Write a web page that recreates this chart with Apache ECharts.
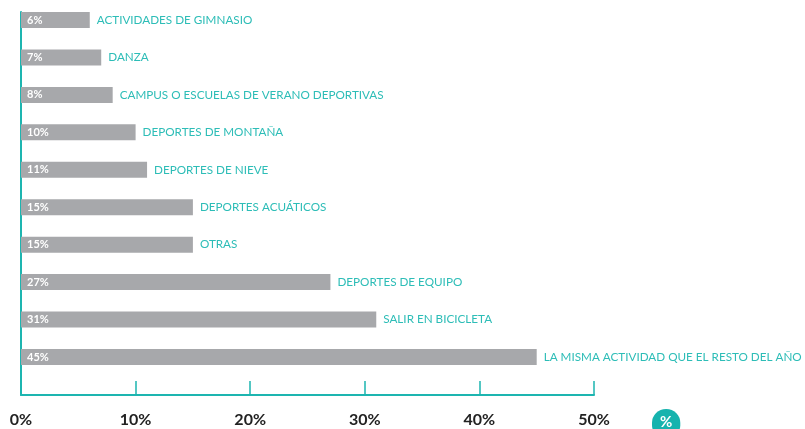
<!DOCTYPE html>
<html>
<head>
<meta charset="utf-8">
<script src="https://cdn.jsdelivr.net/npm/echarts@6/dist/echarts.min.js"></script>
<style>
  html, body { margin: 0; padding: 0; background: #fff; }
  #chart { width: 805px; height: 429px; }
</style>
</head>
<body>
<div id="chart"></div>
<script>
var categories = ['ACTIVIDADES DE GIMNASIO', 'DANZA', 'CAMPUS O ESCUELAS DE VERANO DEPORTIVAS',
  'DEPORTES DE MONTAÑA', 'DEPORTES DE NIEVE', 'DEPORTES ACUÁTICOS', 'OTRAS',
  'DEPORTES DE EQUIPO', 'SALIR EN BICICLETA', 'LA MISMA ACTIVIDAD QUE EL RESTO DEL AÑO'];
var values = [6, 7, 8, 10, 11, 15, 15, 27, 31, 45];
var tickLabels = ['0%', '10%', '20%', '30%', '40%', '50%'];

var teal = '#1db5b0';
var grey = '#a7a8ab';
var font = 'Lato';

var chartDom = document.getElementById('chart');
var myChart = echarts.init(chartDom);
var option;

option = {
  animation: false,
  textStyle: { fontFamily: font },
  title: {
    text: '%',
    left: 652,
    top: 409,
    padding: [6, 8, 9, 8],
    backgroundColor: '#16b3ae',
    borderRadius: 14,
    textStyle: { color: '#fff', fontSize: 15, fontWeight: 'bold', fontFamily: font }
  },
  grid: [
    // bars
    { left: 21, right: 211, top: 1.3, bottom: 53.3 },
    // frame with the axes
    { left: 21, right: 211, top: 12, bottom: 34 }
  ],
  xAxis: [
    { gridIndex: 0, type: 'value', min: 0, max: 50, show: false },
    {
      gridIndex: 1, type: 'value', min: 0, max: 50, interval: 10,
      axisLine: { show: true, lineStyle: { color: teal, width: 2 } },
      axisTick: { show: true, inside: true, length: 14, lineStyle: { color: teal, width: 1.5 } },
      splitLine: { show: false },
      axisLabel: {
        margin: 17,
        color: '#222',
        fontSize: 16,
        fontWeight: 'bold',
        fontFamily: font,
        formatter: function (v) { return tickLabels[Math.round(v / 10)]; }
      }
    }
  ],
  yAxis: [
    {
      gridIndex: 0, type: 'category', data: categories, inverse: true,
      axisLine: { show: false }, axisTick: { show: false }, axisLabel: { show: false }
    },
    {
      gridIndex: 1, type: 'value', min: 0, max: 1,
      axisLine: { show: true, lineStyle: { color: teal, width: 2 } },
      axisTick: { show: false }, axisLabel: { show: false }, splitLine: { show: false }
    }
  ],
  series: [
    {
      type: 'bar',
      xAxisIndex: 0,
      yAxisIndex: 0,
      data: values,
      barWidth: 16,
      itemStyle: { color: grey },
      label: {
        show: true,
        position: 'insideLeft',
        distance: 6,
        color: '#fff',
        fontSize: 11,
        fontWeight: 'bold',
        fontFamily: font,
        formatter: '{c}%'
      },
      z: 3
    },
    {
      type: 'bar',
      xAxisIndex: 0,
      yAxisIndex: 0,
      data: values,
      barWidth: 16,
      barGap: '-100%',
      itemStyle: { color: 'rgba(0,0,0,0)' },
      label: {
        show: true,
        position: 'right',
        distance: 7,
        color: '#2dbdb7',
        fontSize: 11.7,
        fontFamily: font,
        formatter: '{b}'
      },
      z: 2
    }
  ]
};

option && myChart.setOption(option);
</script>
</body>
</html>
